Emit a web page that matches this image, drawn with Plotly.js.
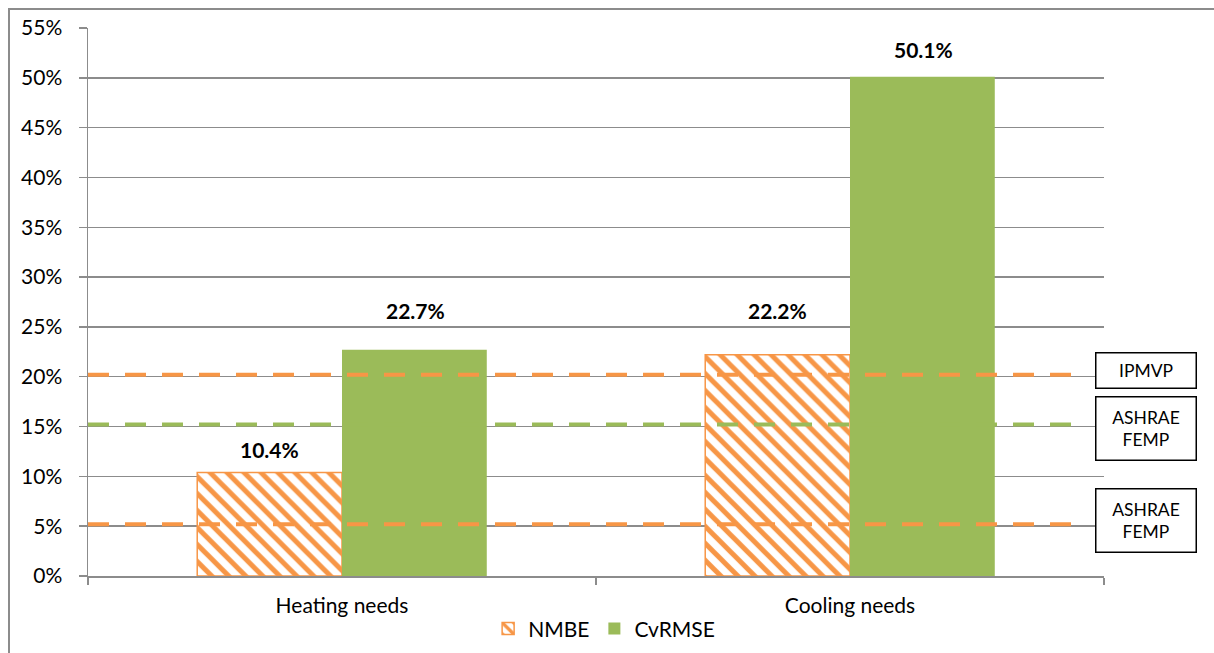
<!DOCTYPE html>
<html>
<head>
<meta charset="utf-8">
<script src="https://cdn.plot.ly/plotly-3.0.1.min.js"></script>
<style>
  html, body { margin: 0; padding: 0; background: #fff; }
  #wrap { position: relative; width: 1214px; height: 653px; overflow: hidden; }
  #chart { position: absolute; left: 0; top: 0; width: 1214px; height: 653px; }
  #frame { position: absolute; left: 8px; top: 8px; width: 1400px; height: 800px;
           border-left: 2px solid #8c8c8c; border-top: 2px solid #8c8c8c; pointer-events: none; }
</style>
</head>
<body>
<div id="wrap">
  <div id="chart"></div>
  <div id="frame"></div>
</div>
<script>
// ---- data ----
const categories = ['Heating needs', 'Cooling needs'];
const nmbeValues = [10.4, 22.2];
const cvrmseValues = [22.7, 50.1];
const seriesNames = ['NMBE', 'CvRMSE'];
const thresholdValues = [20, 15, 5];
const thresholdLabels = ['IPMVP', 'ASHRAE<br>FEMP', 'ASHRAE<br>FEMP'];
const yTickValues = [0, 5, 10, 15, 20, 25, 30, 35, 40, 45, 50, 55];
const yTickLabels = ['0%', '5%', '10%', '15%', '20%', '25%', '30%', '35%', '40%', '45%', '50%', '55%'];

// ---- styles ----
const ORANGE = '#F79646';
const GREEN = '#9BBB59';
const FONT = 'Lato, "Open Sans", sans-serif';
const thresholdColors = [ORANGE, GREEN, ORANGE];
const boxHeights = [34, 62, 62];
const boxShifts = [6, -2, 6];
const nmbeLabelShifts = [23, 44];
const cvrmseLabelShifts = [39, 27];

const traces = [
  {
    type: 'bar', name: seriesNames[0], x: categories, y: nmbeValues,
    marker: {
      color: '#ffffff',
      line: { color: ORANGE, width: 1.5 },
      pattern: { shape: '\\', fgcolor: ORANGE, bgcolor: '#ffffff', size: 12, solidity: 0.42, fillmode: 'replace' }
    },
    hoverinfo: 'none'
  },
  {
    type: 'bar', name: seriesNames[1], x: categories, y: cvrmseValues,
    marker: { color: GREEN, line: { width: 0 } },
    hoverinfo: 'none'
  }
];

const barShift = 73;
const annotations = [];
nmbeValues.forEach((v, i) => annotations.push({
  x: categories[i], y: v, xref: 'x', yref: 'y', text: '<b>' + v.toFixed(1) + '%</b>',
  showarrow: false, xshift: -barShift, yshift: nmbeLabelShifts[i], font: { family: FONT, size: 21, color: '#000' }
}));
cvrmseValues.forEach((v, i) => annotations.push({
  x: categories[i], y: v, xref: 'x', yref: 'y', text: '<b>' + v.toFixed(1) + '%</b>',
  showarrow: false, xshift: barShift, yshift: cvrmseLabelShifts[i], font: { family: FONT, size: 21, color: '#000' }
}));
thresholdValues.forEach((v, i) => annotations.push({
  x: 1.0413, xref: 'paper', xanchor: 'center', y: v, yref: 'y', yanchor: 'middle', text: thresholdLabels[i],
  showarrow: false, yshift: boxShifts[i], width: 99, height: boxHeights[i],
  bgcolor: '#ffffff', bordercolor: '#000000', borderwidth: 1.5, borderpad: 0,
  font: { family: FONT, size: 17.5, color: '#000' }, align: 'center', valign: 'middle'
}));

const shapes = thresholdValues.map((v, i) => ({
  type: 'line', xref: 'paper', yref: 'y', x0: 0, x1: 0.977, y0: v + 0.2, y1: v + 0.2,
  line: { color: thresholdColors[i], width: 4, dash: '21px,16px' }, layer: 'above'
}));

const layout = {
  width: 1214, height: 653,
  margin: { l: 88, r: 110, t: 28, b: 77, autoexpand: false },
  paper_bgcolor: '#ffffff', plot_bgcolor: '#ffffff',
  font: { family: FONT, size: 21, color: '#000' },
  barmode: 'group', bargap: 0.43, bargroupgap: 0,
  showlegend: true,
  legend: {
    orientation: 'h', x: 0.508, xanchor: 'center', y: 0.037, yref: 'container', yanchor: 'middle',
    font: { family: FONT, size: 21, color: '#000' }, itemwidth: 30, tracegroupgap: 0
  },
  xaxis: {
    type: 'category', showgrid: false, showline: true, linecolor: '#8c8c8c', linewidth: 1.5,
    ticks: 'outside', tickson: 'boundaries', ticklen: 7, tickcolor: '#8c8c8c', tickwidth: 1.5,
    ticklabelstandoff: 10,
    tickfont: { family: FONT, size: 21, color: '#000' }, zeroline: false, automargin: false
  },
  yaxis: {
    range: [0, 55], tickmode: 'array', tickvals: yTickValues, ticktext: yTickLabels,
    showgrid: true, gridcolor: '#8c8c8c', gridwidth: 1.5,
    showline: true, linecolor: '#8c8c8c', linewidth: 1.5,
    ticks: 'outside', ticklen: 8, tickcolor: '#8c8c8c', tickwidth: 1.5,
    ticklabelstandoff: 12, zeroline: false, automargin: false,
    tickfont: { family: FONT, size: 21, color: '#000' }
  },
  annotations: annotations,
  shapes: shapes
};

Plotly.newPlot('chart', traces, layout, { displayModeBar: false, staticPlot: true });
</script>
</body>
</html>
